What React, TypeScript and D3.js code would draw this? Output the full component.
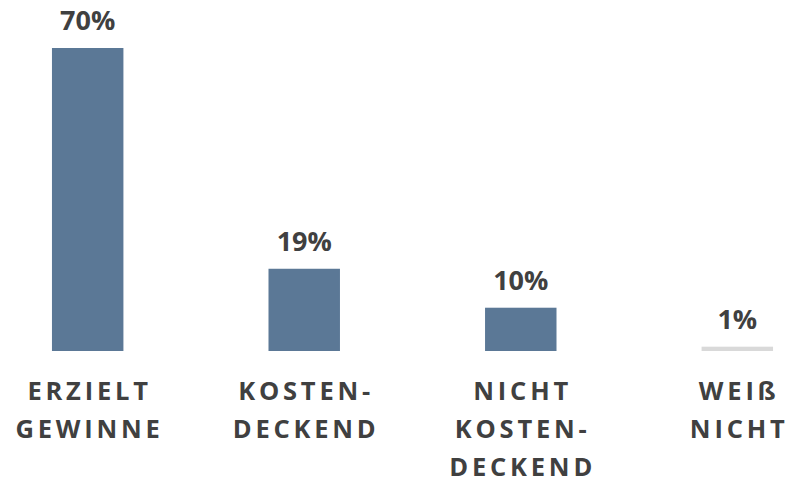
import React from "react";
import * as d3 from "d3";

const categories: string[][] = [
  ["ERZIELT", "GEWINNE"],
  ["KOSTEN-", "DECKEND"],
  ["NICHT", "KOSTEN-", "DECKEND"],
  ["WEIß", "NICHT"],
];
const values = [70, 19, 10, 1];
const labels = ["70%", "19%", "10%", "1%"];
const colors = ["#5b7896", "#5b7896", "#5b7896", "#d9d9d9"];

export default function App() {
  const W = 788, H = 479;
  const baseline = 351;
  const x = d3.scaleBand<number>().domain(values.map((_, i) => i)).range([-19.5, 844.5]).paddingInner(0.67).paddingOuter(0.33);
  const y = d3.scaleLinear().domain([0, 70]).range([baseline, 48]);
  const font = "'Open Sans', 'Segoe UI', sans-serif";
  const ls = 3.8;
  return (
    <svg width={W} height={H} style={{ position: "absolute", left: 0, top: 0 }}>
      <rect width={W} height={H} fill="#ffffff" />
      {values.map((v, i) => {
        const bx = x(i)!;
        const bw = x.bandwidth();
        const cx = bx + bw / 2;
        const top = y(v);
        return (
          <g key={i}>
            <rect x={bx} y={top} width={bw} height={baseline - top} fill={colors[i]} />
            <text x={cx} y={top - 18} textAnchor="middle" fontFamily={font} fontWeight={700} fontSize={27} fill="#404040">
              {labels[i]}
            </text>
            {categories[i].map((line, j) => (
              <text key={j} x={cx + ls / 2} y={400 + j * 38} textAnchor="middle" fontFamily={font} fontWeight={700} fontSize={25.5} letterSpacing={ls} fill="#404040">
                {line}
              </text>
            ))}
          </g>
        );
      })}
    </svg>
  );
}
